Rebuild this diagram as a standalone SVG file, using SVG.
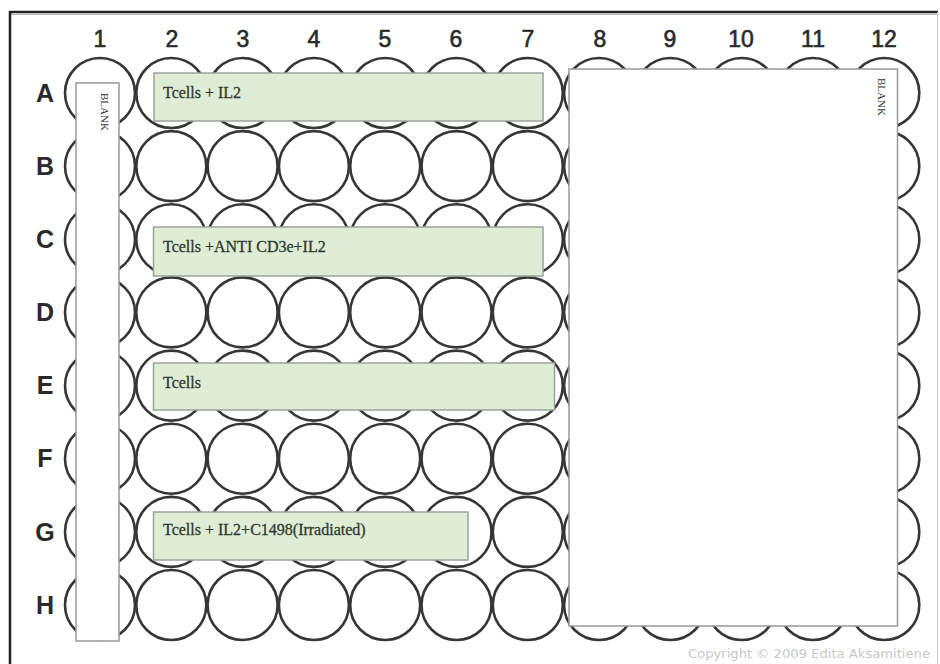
<svg xmlns="http://www.w3.org/2000/svg" width="940" height="664" viewBox="0 0 940 664">
<style>
.well{fill:none;stroke:#363636;stroke-width:2.6}
.col{font-family:"Liberation Sans",Arial,sans-serif;font-size:23px;fill:#2a2a2a;stroke:#2a2a2a;stroke-width:0.6;text-anchor:middle}
.row{font-family:"Liberation Sans",Arial,sans-serif;font-size:25px;font-weight:bold;fill:#2a2a2a;text-anchor:middle}
.grp{fill:#dfecd6;stroke:#9aa39a;stroke-width:1.5}
.blank{fill:#fff;stroke:#999;stroke-width:1.5}
.lbl{font-family:"Liberation Serif","Times New Roman",serif;font-size:16px;fill:#2f3a2f;stroke:#2f3a2f;stroke-width:0.3}
.bl{font-family:"Liberation Serif","Times New Roman",serif;font-size:11px;fill:#333}
</style>
<rect x="0" y="0" width="940" height="664" fill="#fff"/>
<g id="frame">
<line x1="10" y1="12" x2="938" y2="12" stroke="#222" stroke-width="2.5"/>
<line x1="10" y1="14.5" x2="938" y2="14.5" stroke="#bbb" stroke-width="1"/>
<line x1="10" y1="11" x2="10" y2="664" stroke="#222" stroke-width="2.5"/>
<line x1="937.5" y1="12" x2="937.5" y2="664" stroke="#ccc" stroke-width="1"/>
</g>
<g id="column-labels">
<text class="col" x="100" y="47">1</text>
<text class="col" x="172" y="47">2</text>
<text class="col" x="243" y="47">3</text>
<text class="col" x="314" y="47">4</text>
<text class="col" x="385" y="47">5</text>
<text class="col" x="456" y="47">6</text>
<text class="col" x="528" y="47">7</text>
<text class="col" x="600" y="47">8</text>
<text class="col" x="670" y="47">9</text>
<text class="col" x="741" y="47">10</text>
<text class="col" x="813" y="47">11</text>
<text class="col" x="884" y="47">12</text>
</g>
<g id="row-labels">
<text class="row" x="45" y="102">A</text>
<text class="row" x="45" y="175">B</text>
<text class="row" x="45" y="248">C</text>
<text class="row" x="45" y="321">D</text>
<text class="row" x="45" y="394">E</text>
<text class="row" x="45" y="467">F</text>
<text class="row" x="45" y="541">G</text>
<text class="row" x="45" y="614">H</text>
</g>
<defs>
<g id="wellrow">
<circle class="well" cx="100" cy="0" r="35"/>
<circle class="well" cx="171.3" cy="0" r="35"/>
<circle class="well" cx="242.6" cy="0" r="35"/>
<circle class="well" cx="313.9" cy="0" r="35"/>
<circle class="well" cx="385.2" cy="0" r="35"/>
<circle class="well" cx="456.5" cy="0" r="35"/>
<circle class="well" cx="527.8" cy="0" r="35"/>
<circle class="well" cx="599.1" cy="0" r="35"/>
<circle class="well" cx="670.4" cy="0" r="35"/>
<circle class="well" cx="741.7" cy="0" r="35"/>
<circle class="well" cx="813" cy="0" r="35"/>
<circle class="well" cx="884.3" cy="0" r="35"/>
</g>
</defs>
<g id="wells">
<use href="#wellrow" y="93"/>
<use href="#wellrow" y="166.1"/>
<use href="#wellrow" y="239.3"/>
<use href="#wellrow" y="312.4"/>
<use href="#wellrow" y="385.6"/>
<use href="#wellrow" y="458.7"/>
<use href="#wellrow" y="531.9"/>
<use href="#wellrow" y="605"/>
</g>
<g id="blank-col1">
<rect class="blank" x="76" y="83" width="43" height="558"/>
<text class="bl" transform="translate(101,93) rotate(90)">BLANK</text>
</g>
<g id="group-A">
<rect class="grp" x="154" y="73" width="389" height="48"/>
<text class="lbl" x="163" y="98">Tcells + IL2</text>
</g>
<g id="group-C">
<rect class="grp" x="153.5" y="227" width="389.5" height="49"/>
<text class="lbl" x="163" y="252">Tcells +ANTI CD3e+IL2</text>
</g>
<g id="group-E">
<rect class="grp" x="153.5" y="363" width="401" height="47"/>
<text class="lbl" x="163" y="388">Tcells</text>
</g>
<g id="group-G">
<rect class="grp" x="153.5" y="512" width="314.5" height="48"/>
<text class="lbl" x="163" y="535">Tcells + IL2+C1498(Irradiated)</text>
</g>
<g id="blank-right">
<rect class="blank" x="569" y="69" width="328.5" height="557"/>
<text class="bl" transform="translate(878,78) rotate(90)">BLANK</text>
</g>
<text x="930" y="658" text-anchor="end" font-family="DejaVu Sans,Verdana,sans-serif" font-size="12" fill="#c8c8c8" textLength="242" lengthAdjust="spacingAndGlyphs">Copyright © 2009 Edita Aksamitiene</text>
</svg>
